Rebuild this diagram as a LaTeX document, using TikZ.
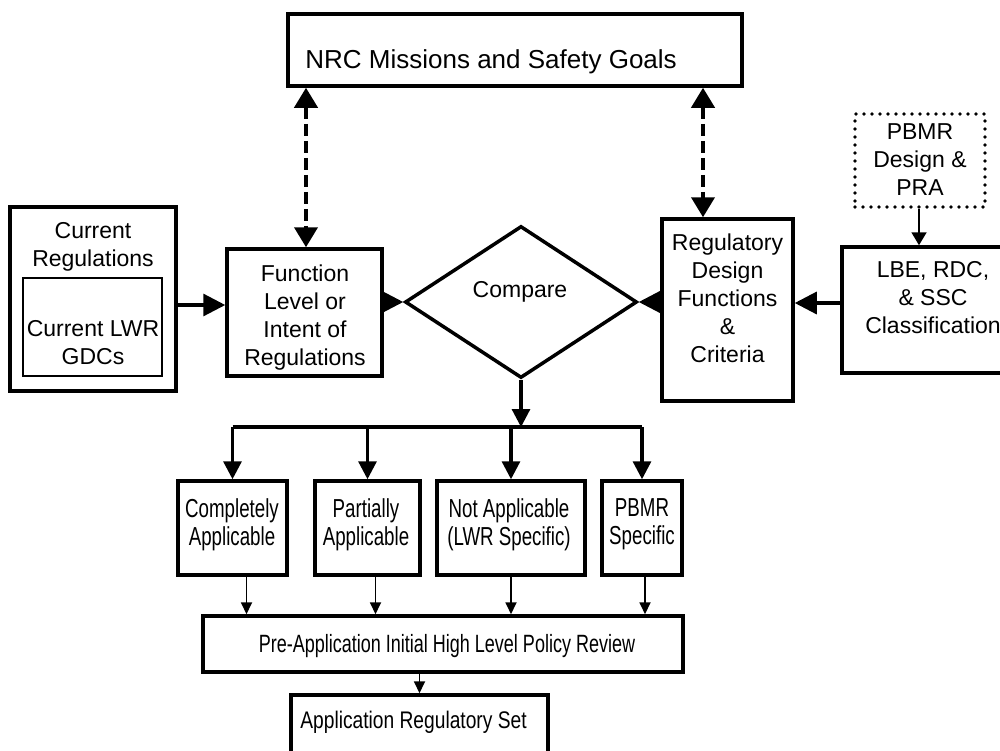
\documentclass[tikz,border=0pt]{standalone}
\usepackage{fontspec}
\setmainfont{Liberation Sans}
\newfontfamily\condfont[FakeStretch=0.8]{Liberation Sans}
\newfontfamily\narrowfont[FakeStretch=0.72]{Liberation Sans}
\usetikzlibrary{arrows.meta,shapes.geometric}
\newcommand{\mainf}{\fontsize{11.5}{14}\selectfont}
\newcommand{\condf}{\condfont\fontsize{12}{14}\selectfont}
\newcommand{\rowf}{\narrowfont\fontsize{13}{14}\selectfont}
\begin{document}
\begin{tikzpicture}[x=0.5pt,y=-0.5pt,
  box/.style={draw, rectangle, line width=1.75pt, inner sep=0pt},
  thinbox/.style={draw, rectangle, line width=0.9pt, inner sep=0pt},
  dotbox/.style={draw, rectangle, line width=1.8pt, inner sep=0pt, line cap=round, dash pattern=on 0pt off 4pt},
  txt/.style={inner sep=0pt, align=center, font=\mainf},
  ctxt/.style={inner sep=0pt, align=center, font=\rowf},
  bigarrow/.style={line width=1.6pt, -{Triangle[length=11pt,width=11pt]}},
  busarrow/.style={line width=1.6pt, -{Triangle[length=9pt,width=9pt]}},
  smallarrow/.style={line width=0.9pt, -{Triangle[length=6pt,width=5.5pt]}},
  dasharrow/.style={line width=2pt, dash pattern=on 6pt off 2.5pt, {Triangle[length=10pt,width=11.5pt]}-{Triangle[length=10pt,width=11.5pt]}},
  busline/.style={line width=1.6pt}
]
\useasboundingbox (0,0) rectangle (1000,750);

% boxes
\node[box, minimum width=227pt, minimum height=36pt] (nrc) at (515,50) {};
\node[box, minimum width=83pt, minimum height=92pt] (curreg) at (93,299) {};
\node[thinbox, minimum width=69.5pt, minimum height=49pt] (inner) at (92.5,327) {};
\node[box, minimum width=77.5pt, minimum height=63.5pt] (func) at (304.5,312.5) {};
\node[diamond, draw, line width=1.75pt, inner sep=0pt, minimum width=116pt, minimum height=76pt] (cmp) at (521,302) {};
\node[box, minimum width=65.5pt, minimum height=91pt] (reg) at (727.5,310) {};
\node[box, minimum width=91.5pt, minimum height=63pt] (lbe) at (933.5,310) {};
\node[dotbox, minimum width=65pt, minimum height=46.5pt] (pbmr) at (920,160.5) {};
\node[box, minimum width=54.5pt, minimum height=47pt] (b1) at (232.5,528) {};
\node[box, minimum width=52.5pt, minimum height=47pt] (b2) at (367.5,528) {};
\node[box, minimum width=74pt, minimum height=47pt] (b3) at (511,528) {};
\node[box, minimum width=40pt, minimum height=47pt] (b4) at (642,528) {};
\node[box, minimum width=240pt, minimum height=28pt] (pre) at (443,644) {};
\node[box, minimum width=128.5pt, minimum height=47.5pt] (app) at (419.5,742.5) {};

% texts
\node[inner sep=0pt, anchor=base west, font=\fontsize{13}{15}\selectfont] (tnrc) at (305,68) {NRC Missions and Safety Goals};
\node[txt, anchor=north] (tcur) at (93,222) {Current\\Regulations};
\node[txt, anchor=north] (tinner) at (93,320) {Current LWR\\GDCs};
\node[txt, anchor=north] (tfunc) at (305,264) {Function\\Level or\\Intent of\\Regulations};
\node[txt, anchor=base] (tcmp) at (520,297) {Compare};
\node[txt, anchor=north] (treg) at (727.5,233) {Regulatory\\Design\\Functions\\\&\\Criteria};
\node[txt, anchor=north] (tlbe) at (933,261) {LBE, RDC,\\\& SSC\\Classification};
\node[txt, anchor=north] (tpbmr) at (920,123) {PBMR\\Design \&\\PRA};
\node[ctxt, anchor=north] (tb1) at (232,498) {Completely\\Applicable};
\node[ctxt, anchor=north] (tb2) at (366,498) {Partially\\Applicable};
\node[ctxt, anchor=north] (tb3) at (509,498) {Not Applicable\\(LWR Specific)};
\node[ctxt, anchor=north] (tb4) at (642,498) {PBMR\\Specific};
\node[inner sep=0pt, anchor=base, font=\narrowfont\fontsize{12.5}{15}\selectfont] (tpre) at (447,652) {Pre-Application Initial High Level Policy Review};
\node[inner sep=0pt, anchor=base west, font=\condf] (tapp) at (300,728) {Application Regulatory Set};

% helper coordinates
\coordinate (dl) at (306,0);
\coordinate (dr) at (703,0);
\coordinate (ya) at (0,305);
\coordinate (yb) at (0,303);
\coordinate (bus) at (0,427);
\coordinate (xp) at (919,0);

% connectors
\draw[dasharrow] (dl |- nrc.south) -- (dl |- func.north);
\draw[dasharrow] (dr |- nrc.south) -- (dr |- reg.north);
\draw[bigarrow] (curreg.east |- ya) -- (func.west |- ya);
\draw[bigarrow] (lbe.west |- yb) -- (reg.east |- yb);
\draw[line width=0.9pt, -{Triangle[length=6.5pt,width=7.5pt]}] (xp |- pbmr.south) -- (xp |- lbe.north);
\draw[line width=1.6pt, -{Triangle[length=11pt,width=11pt]}] (func.east |- cmp.west) -- (cmp.west);
\draw[line width=1.6pt, -{Triangle[length=11pt,width=11pt]}] (reg.west |- cmp.east) -- (cmp.east);
\draw[busarrow] (cmp.south) -- (cmp.south |- bus);
\draw[busline] (b1.north |- bus) -- (b4.north |- bus);
\draw[busarrow] (b1.north |- bus) -- (b1.north);
\draw[busarrow] (b2.north |- bus) -- (b2.north);
\draw[busarrow] (b3.north |- bus) -- (b3.north);
\draw[busarrow] (b4.north |- bus) -- (b4.north);
\draw[smallarrow] ([xshift=7pt]b1.south) -- ([xshift=7pt]b1.south |- pre.north);
\draw[smallarrow] ([xshift=4pt]b2.south) -- ([xshift=4pt]b2.south |- pre.north);
\draw[smallarrow] (b3.south) -- (b3.south |- pre.north);
\draw[smallarrow] ([xshift=1.5pt]b4.south) -- ([xshift=1.5pt]b4.south |- pre.north);
\draw[smallarrow] (pre.south -| app.north) -- (app.north);
\end{tikzpicture}
\end{document}
